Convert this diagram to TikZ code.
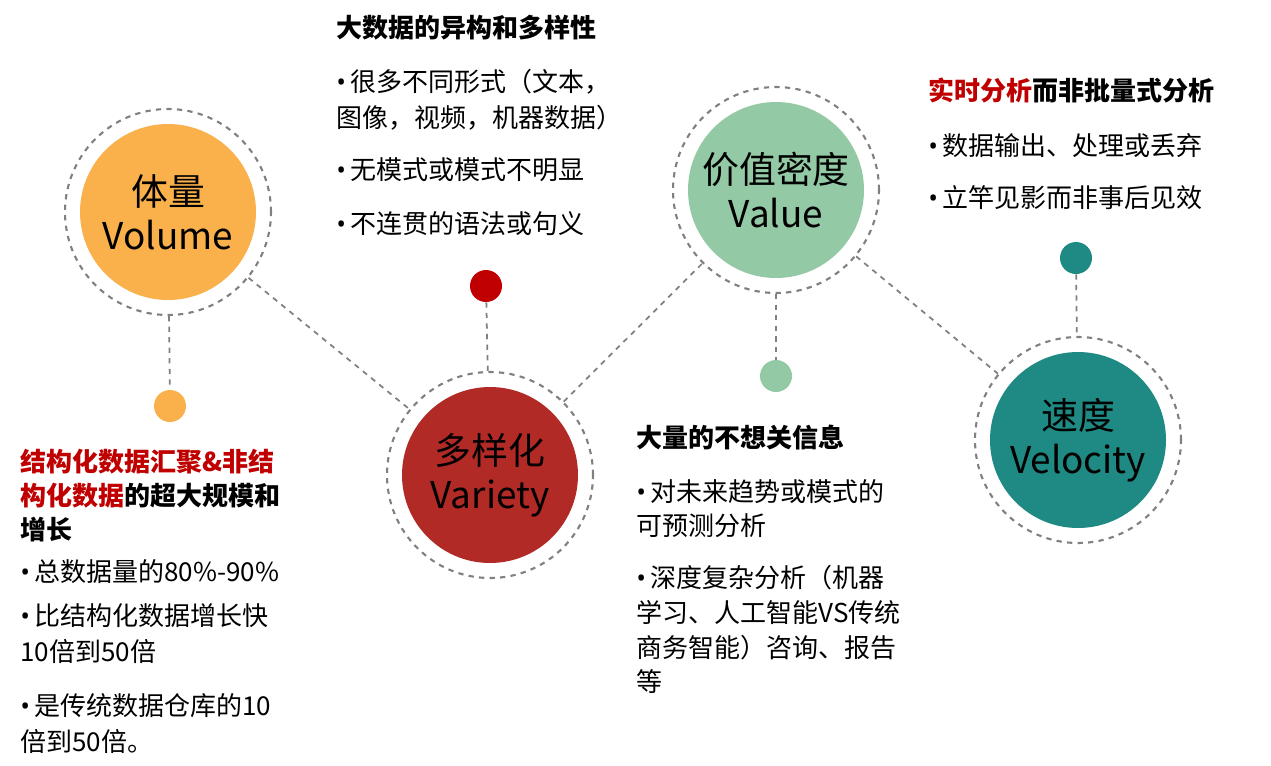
\documentclass[tikz,border=0pt]{standalone}
\usepackage{fontspec}
\setmainfont{Noto Sans CJK SC}
\newfontfamily\latinf{Open Sans}
\newcommand{\bul}{{\latinf •}\,}
\definecolor{volorange}{HTML}{FAB14B}
\definecolor{varred}{HTML}{B12A26}
\definecolor{valgreen}{HTML}{93C9A5}
\definecolor{veltea}{HTML}{1F8A83}
\definecolor{hlred}{HTML}{C00000}
\begin{document}
\begin{tikzpicture}[x=0.02cm,y=-0.02cm,
  ring/.style={circle,draw=gray,dashed,line width=1.2pt,minimum size=206*0.02cm},
  disc/.style={circle,minimum size=176*0.02cm,align=center,font=\fontsize{21}{25}\selectfont,inner sep=0pt},
  dot/.style={circle,minimum size=32*0.02cm,inner sep=0pt},
  link/.style={gray,dashed,line width=1pt},
  txt/.style={anchor=west,inner sep=0pt,font=\fontsize{14.8}{17}\selectfont},
  head/.style={txt,font=\fontsize{14.8}{17}\selectfont\bfseries}]
\useasboundingbox (0,0) rectangle (1271,765);
% circles
\node[ring] (volR) at (168,212) {};
\node[disc,fill=volorange] (vol) at (168,212) {体量\\Volume};
\node[ring] (varR) at (490,475) {};
\node[disc,fill=varred] (var) at (490,475) {多样化\\Variety};
\node[ring] (valR) at (776,190) {};
\node[disc,fill=valgreen] (val) at (776,190) {价值密度\\Value};
\node[ring] (velR) at (1078,440) {};
\node[disc,fill=veltea] (vel) at (1078,440) {速度\\Velocity};
% dots
\node[dot,fill=volorange] (volD) at (170,406) {};
\node[dot,fill=hlred] (varD) at (486,286) {};
\node[dot,fill=valgreen] (valD) at (776,376) {};
\node[dot,fill=veltea] (velD) at (1076,258) {};
% connectors
\draw[link] (volR) -- (volD);
\draw[link] (varD) -- (varR);
\draw[link] (valR) -- (valD);
\draw[link] (velD) -- (velR);
\draw[link] (volR) -- (varR);
\draw[link] (varR) -- (valR);
\draw[link] (valR) -- (velR);
% top middle
\node[head] (t1) at (336,28) {大数据的异构和多样性};
\node[txt] (t2) at (336,82) {\bul 很多不同形式（文本，};
\node[txt] (t3) at (336,118) {图像，视频，机器数据）};
\node[txt] (t4) at (336,170) {\bul 无模式或模式不明显};
\node[txt] (t5) at (336,224) {\bul 不连贯的语法或句义};
% top right
\node[head] (r1) at (928,90) {\textcolor{hlred}{实时分析}而非批量式分析};
\node[txt] (r2) at (928,146) {\bul 数据输出、处理或丢弃};
\node[txt] (r3) at (928,198) {\bul 立竿见影而非事后见效};
% left
\node[head] (l1) at (20,462) {\textcolor{hlred}{结构化数据汇聚\&非结}};
\node[head] (l2) at (20,496) {\textcolor{hlred}{构化数据}的超大规模和};
\node[head] (l3) at (20,530) {增长};
\node[txt] (l4) at (20,572) {\bul 总数据量的80\%-90\%};
\node[txt] (l5) at (20,616) {\bul 比结构化数据增长快};
\node[txt] (l6) at (20,652) {10倍到50倍};
\node[txt] (l7) at (20,706) {\bul 是传统数据仓库的10};
\node[txt] (l8) at (20,742) {倍到50倍。};
% bottom middle
\node[head] (m1) at (636,438) {大量的不想关信息};
\node[txt] (m2) at (636,492) {\bul 对未来趋势或模式的};
\node[txt] (m3) at (636,526) {可预测分析};
\node[txt] (m4) at (636,578) {\bul 深度复杂分析（机器};
\node[txt] (m5) at (636,612) {学习、人工智能VS传统};
\node[txt] (m6) at (636,648) {商务智能）咨询、报告};
\node[txt] (m7) at (636,682) {等};
\end{tikzpicture}
\end{document}
